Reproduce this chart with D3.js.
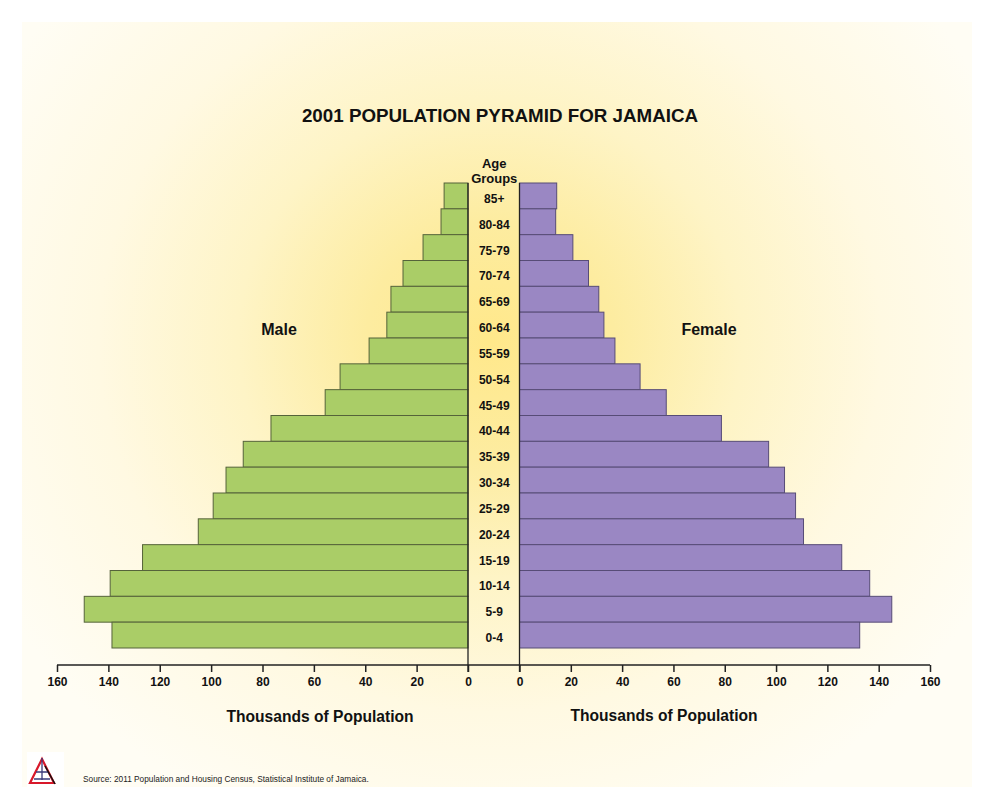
<!DOCTYPE html>
<html>
<head>
<meta charset="utf-8">
<script src="https://cdn.jsdelivr.net/npm/d3@7"></script>
<style>
  html, body { margin: 0; padding: 0; background: #fff; }
  svg { display: block; font-family: Arial, "Liberation Sans", sans-serif; }
</style>
</head>
<body>
<svg id="chart" width="994" height="806"></svg>
<script>
// age groups, top of pyramid first
const ageGroups = ["85+", "80-84", "75-79", "70-74", "65-69", "60-64", "55-59", "50-54", "45-49",
  "40-44", "35-39", "30-34", "25-29", "20-24", "15-19", "10-14", "5-9", "0-4"];
// thousands of persons
const maleValues = [9.3, 10.5, 17.5, 25.3, 30, 31.6, 38.5, 49.8, 55.6,
  76.7, 87.5, 94.2, 99.2, 105, 126.7, 139.3, 149.4, 138.6];
const femaleValues = [14.5, 14.1, 20.8, 26.9, 30.9, 32.9, 37.2, 47, 57.2,
  78.7, 97.1, 103.3, 107.6, 110.7, 125.6, 136.5, 145.1, 132.6];
const tickValues = [0, 20, 40, 60, 80, 100, 120, 140, 160];

const svg = d3.select("#chart");

// soft yellow glow background
const defs = svg.append("defs");
const rg = defs.append("radialGradient").attr("id", "glow")
  .attr("gradientUnits", "userSpaceOnUse")
  .attr("cx", 490).attr("cy", 340).attr("r", 560)
  .attr("gradientTransform", "translate(490,340) scale(1,0.95) translate(-490,-340)");
[[0, "#ffe88a"], [0.22, "#fdeca0"], [0.45, "#fef4c6"], [0.7, "#fff9e2"], [1, "#fffdf4"]]
  .forEach(([o, c]) => rg.append("stop").attr("offset", o).attr("stop-color", c));
svg.append("rect").attr("x", 22).attr("y", 22).attr("width", 950).attr("height", 765)
  .attr("fill", "url(#glow)");

const AXIS_Y = 665;
const xL = d3.scaleLinear().domain([0, 160]).range([468, 57]);
const xR = d3.scaleLinear().domain([0, 160]).range([519.5, 930]);
const y = d3.scaleBand().domain(ageGroups).range([183, 648]).padding(0);

// title
svg.append("text").attr("x", 500).attr("y", 122).attr("text-anchor", "middle")
  .style("font-weight", 700).style("font-size", "18.8px").style("fill", "#111")
  .text("2001 POPULATION PYRAMID FOR JAMAICA");

// bars
svg.append("g").selectAll("rect").data(ageGroups).join("rect")
  .attr("x", (d, i) => xL(maleValues[i]))
  .attr("y", d => y(d))
  .attr("width", (d, i) => xL(0) - xL(maleValues[i]))
  .attr("height", y.bandwidth())
  .attr("fill", "#aacd67").attr("stroke", "#55633a").attr("stroke-width", 1);

svg.append("g").selectAll("rect").data(ageGroups).join("rect")
  .attr("x", xR(0))
  .attr("y", d => y(d))
  .attr("width", (d, i) => xR(femaleValues[i]) - xR(0))
  .attr("height", y.bandwidth())
  .attr("fill", "#9a87c3").attr("stroke", "#574c77").attr("stroke-width", 1);

// centre lines and baseline
svg.append("line").attr("x1", xL(0)).attr("x2", xL(0)).attr("y1", 183).attr("y2", AXIS_Y + 7)
  .attr("stroke", "#222").attr("stroke-width", 1.3);
svg.append("line").attr("x1", xR(0)).attr("x2", xR(0)).attr("y1", 183).attr("y2", AXIS_Y + 7)
  .attr("stroke", "#222").attr("stroke-width", 1.3);
svg.append("line").attr("x1", xL(160)).attr("x2", xR(160)).attr("y1", AXIS_Y).attr("y2", AXIS_Y)
  .attr("stroke", "#222").attr("stroke-width", 1.5);

// axes
function styleAxis(g) {
  g.select(".domain").remove();
  g.selectAll(".tick line").attr("stroke", "#222").attr("stroke-width", 1.5);
  g.selectAll(".tick text").attr("fill", "#111").style("font-size", "12px").style("font-weight", 700)
    .style("font-family", "Arial, 'Liberation Sans', sans-serif").attr("dy", "0.9em").attr("y", 10);
}
svg.append("g").attr("transform", `translate(0,${AXIS_Y})`)
  .call(d3.axisBottom(xL).tickValues(tickValues).tickSize(7).tickFormat(d3.format("d")))
  .call(styleAxis);
svg.append("g").attr("transform", `translate(0,${AXIS_Y})`)
  .call(d3.axisBottom(xR).tickValues(tickValues).tickSize(7).tickFormat(d3.format("d")))
  .call(styleAxis);

// age labels
const cx = (xL(0) + xR(0)) / 2 + 0.5;
svg.append("g").selectAll("text").data(ageGroups).join("text")
  .attr("x", cx).attr("y", d => y(d) + y.bandwidth() / 2 + 7)
  .attr("text-anchor", "middle")
  .style("font-size", "12px").style("font-weight", 700).style("fill", "#111")
  .text(d => d);
svg.append("text").attr("x", cx).attr("y", 168).attr("text-anchor", "middle")
  .style("font-size", "13px").style("font-weight", 700).style("fill", "#111").text("Age");
svg.append("text").attr("x", cx).attr("y", 183).attr("text-anchor", "middle")
  .style("font-size", "13px").style("font-weight", 700).style("fill", "#111").text("Groups");

// side labels
svg.append("text").attr("x", 279).attr("y", 335).attr("text-anchor", "middle")
  .style("font-size", "16px").style("font-weight", 700).style("fill", "#111").text("Male");
svg.append("text").attr("x", 709).attr("y", 335).attr("text-anchor", "middle")
  .style("font-size", "16px").style("font-weight", 700).style("fill", "#111").text("Female");

svg.append("text").attr("x", 320).attr("y", 722).attr("text-anchor", "middle")
  .style("font-size", "15.6px").style("font-weight", 700).style("fill", "#111").text("Thousands of Population");
svg.append("text").attr("x", 664).attr("y", 721).attr("text-anchor", "middle")
  .style("font-size", "15.6px").style("font-weight", 700).style("fill", "#111").text("Thousands of Population");

// logo + source
const logo = svg.append("g");
logo.append("rect").attr("x", 27).attr("y", 752).attr("width", 37).attr("height", 35).attr("fill", "#fff");
logo.append("path").attr("d", "M42,759 L30,783 L54,783 Z").attr("fill", "none")
  .attr("stroke", "#d8182a").attr("stroke-width", 2.2);
logo.append("path").attr("d", "M42,758 L42,780 M36,772 L48,772 M34,779 L50,779").attr("fill", "none")
  .attr("stroke", "#3a3a7a").attr("stroke-width", 1.3);
logo.append("path").attr("d", "M45,766 L55,784").attr("stroke", "#111").attr("stroke-width", 1.5);
svg.append("text").attr("x", 83).attr("y", 782)
  .style("font-size", "8.3px").style("fill", "#222")
  .text("Source: 2011 Population and Housing Census, Statistical Institute of Jamaica.");
</script>
</body>
</html>
